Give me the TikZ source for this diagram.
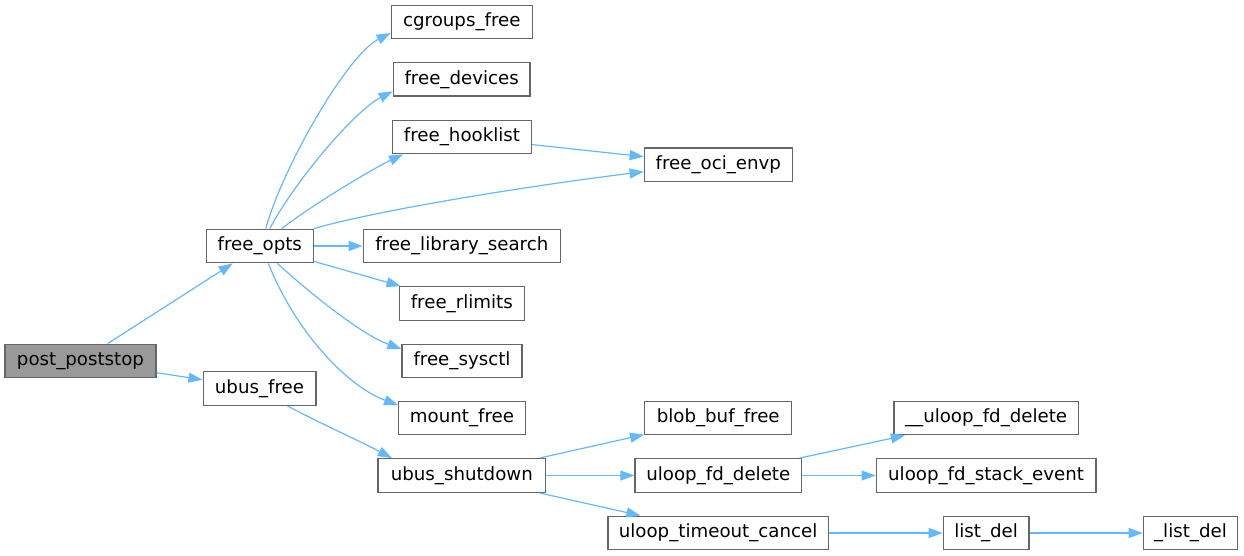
\documentclass[tikz,border=0pt]{standalone}
\usepackage{fontspec}
\setmainfont{DejaVu Sans}
\usetikzlibrary{arrows.meta}
\definecolor{edgeblue}{HTML}{63B8FF}
\definecolor{boxgray}{HTML}{666666}
\definecolor{rootfill}{HTML}{999999}
\begin{document}
\begin{tikzpicture}[x=1pt,y=-1pt,
  fn/.style={draw=boxgray,line width=1.3pt,fill=white,minimum height=33.6pt,inner sep=0pt,
    font=\fontsize{18.2}{22}\selectfont},
  root/.style={fn,fill=rootfill},
  edge/.style={draw=edgeblue,line width=1.2pt,-{Triangle[length=14pt,width=10pt]}}]
\useasboundingbox (0,0) rectangle (1244,555);
% nodes
\node[root,minimum width=151pt] (pp) at (80.5,361) {post\_poststop};
\node[fn,minimum width=107pt] (fo) at (259.8,246) {free\_opts};
\node[fn,minimum width=112.7pt] (uf) at (259.5,388.5) {ubus\_free};
\node[fn,minimum width=141pt] (cg) at (461.8,22) {cgroups\_free};
\node[fn,minimum width=136.7pt] (fd) at (461.7,79.3) {free\_devices};
\node[fn,minimum width=138.6pt] (fh) at (462,137) {free\_hooklist};
\node[fn,minimum width=148pt] (oci) at (718.3,164.7) {free\_oci\_envp};
\node[fn,minimum width=197pt] (fls) at (461.8,246) {free\_library\_search};
\node[fn,minimum width=125pt] (frl) at (461.8,303.5) {free\_rlimits};
\node[fn,minimum width=120pt] (fsy) at (462,361) {free\_sysctl};
\node[fn,minimum width=126.6pt] (mf) at (462,418) {mount\_free};
\node[fn,minimum width=167.7pt] (us) at (461.8,475.5) {ubus\_shutdown};
\node[fn,minimum width=147pt] (bbf) at (718.2,418) {blob\_buf\_free};
\node[fn,minimum width=166.7pt] (ufd) at (718.3,475.5) {uloop\_fd\_delete};
\node[fn,minimum width=220.3pt] (utc) at (718.1,533) {uloop\_timeout\_cancel};
\node[fn,minimum width=184.3pt] (ufdd) at (986.1,418) {\_\_uloop\_fd\_delete};
\node[fn,minimum width=219.7pt] (ufse) at (986.1,475.5) {uloop\_fd\_stack\_event};
\node[fn,minimum width=85.7pt] (ld) at (986.1,533) {list\_del};
\node[fn,minimum width=94.4pt] (lld) at (1190.5,533) {\_list\_del};
% edges
\draw[edge] (pp) -- (fo);
\draw[edge] (pp) -- (uf);
\draw[edge] ([xshift=6pt]fo.north) .. controls +(75:60pt) and +(207:50pt) .. ([yshift=-11pt]cg.west);
\draw[edge] ([xshift=10pt]fo.north) .. controls +(62:55pt) and +(207:42pt) .. ([yshift=-12pt]fd.west);
\draw[edge] ([xshift=22pt]fo.north) .. controls +(38:40pt) and +(205:30pt) .. ([xshift=-59pt]fh.south);
\draw[edge] (fo.north east) .. controls +(16:70pt) and +(187:110pt) .. ([yshift=-7pt]oci.west);
\draw[edge] (fo) -- (fls);
\draw[edge] (fo) -- (frl);
\draw[edge] ([xshift=17.5pt]fo.south) .. controls +(-42:55pt) and +(160:40pt) .. ([yshift=12pt]fsy.west);
\draw[edge] ([xshift=8.5pt]fo.south) .. controls +(-68:80pt) and +(160:50pt) .. ([yshift=13pt]mf.west);
\draw[edge] (fh) -- (oci);
\draw[edge] ([xshift=28pt]uf.south) .. controls +(-28:40pt) and +(152:40pt) .. ([xshift=-70pt]us.north);
\draw[edge] (us) -- (bbf);
\draw[edge] (us) -- (ufd);
\draw[edge] (us) -- (utc);
\draw[edge] (ufd) -- (ufdd);
\draw[edge] (ufd) -- (ufse);
\draw[edge] (utc) -- (ld);
\draw[edge] (ld) -- (lld);
\end{tikzpicture}
\end{document}
